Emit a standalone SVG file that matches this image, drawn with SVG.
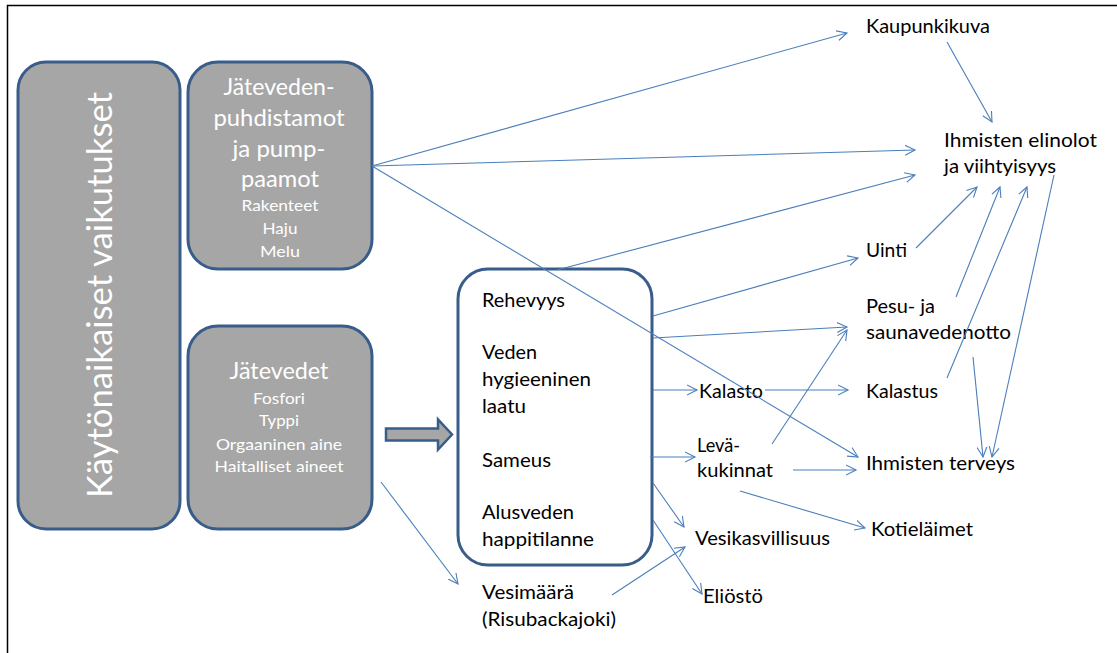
<svg xmlns="http://www.w3.org/2000/svg" width="1117" height="653" viewBox="0 0 1117 653">
<style>
.gbox{fill:#A6A6A6;stroke:#385D8A;stroke-width:3}
.wbox{fill:#FFFFFF;stroke:#385D8A;stroke-width:3}
.wt{font-family:Lato,"Liberation Sans",sans-serif;fill:#FFFFFF;text-anchor:middle}
.big{font-size:24px}
.sm{font-size:16px}
.lb{font-family:Lato,"Liberation Sans",sans-serif;font-size:20px;fill:#000000}
.cn{stroke:#4A7EBB;stroke-width:1.1;fill:none;marker-end:url(#ah)}
</style>
<defs>
<marker id="ah" markerUnits="userSpaceOnUse" markerWidth="12" markerHeight="12" refX="10" refY="5" orient="auto" viewBox="0 0 12 10">
<path d="M0,0 L10,5 L0,10" fill="none" stroke="#4A7EBB" stroke-width="1.1"/>
</marker>
</defs>
<rect x="0" y="0" width="1117" height="653" fill="#FFFFFF"/>
<rect x="7.5" y="5.5" width="1200" height="700" fill="none" stroke="#000000" stroke-width="1.5"/>

<g id="kaytonaikaiset">
<rect class="gbox" x="18" y="62" width="162" height="467" rx="28" ry="28"/>
<text class="wt" font-size="34" transform="translate(112,295) rotate(-90)" x="0" y="0" textLength="406" lengthAdjust="spacingAndGlyphs">Käytönaikaiset vaikutukset</text>
</g>

<g id="puhdistamot">
<rect class="gbox" x="188" y="62" width="184" height="207" rx="30" ry="30"/>
<text class="wt big" x="279" y="95" textLength="111" lengthAdjust="spacingAndGlyphs">Jäteveden-</text>
<text class="wt big" x="279" y="126" textLength="131" lengthAdjust="spacingAndGlyphs">puhdistamot</text>
<text class="wt big" x="279" y="157" textLength="93" lengthAdjust="spacingAndGlyphs">ja pump-</text>
<text class="wt big" x="280" y="187" textLength="78" lengthAdjust="spacingAndGlyphs">paamot</text>
<text class="wt sm" x="280" y="211" textLength="77" lengthAdjust="spacingAndGlyphs">Rakenteet</text>
<text class="wt sm" x="280" y="234" textLength="35" lengthAdjust="spacingAndGlyphs">Haju</text>
<text class="wt sm" x="280" y="257" textLength="40" lengthAdjust="spacingAndGlyphs">Melu</text>
</g>

<g id="jatevedet">
<rect class="gbox" x="188" y="326" width="184" height="203" rx="30" ry="30"/>
<text class="wt big" x="279" y="379" textLength="99" lengthAdjust="spacingAndGlyphs">Jätevedet</text>
<text class="wt sm" x="279" y="404" textLength="52" lengthAdjust="spacingAndGlyphs">Fosfori</text>
<text class="wt sm" x="279" y="426" textLength="40" lengthAdjust="spacingAndGlyphs">Typpi</text>
<text class="wt sm" x="279" y="450" textLength="126" lengthAdjust="spacingAndGlyphs">Orgaaninen aine</text>
<text class="wt sm" x="279" y="472" textLength="129" lengthAdjust="spacingAndGlyphs">Haitalliset aineet</text>
</g>

<g id="blockarrow">
<path d="M386,428.5 L438,428.5 L438,419.5 L452,434.5 L438,449.5 L438,440.5 L386,440.5 Z" fill="#A6A6A6" stroke="#385D8A" stroke-width="2.5" stroke-linejoin="miter"/>
</g>

<g id="vedenlaatu">
<rect class="wbox" x="458" y="269" width="194" height="296" rx="30" ry="30"/>
<text class="lb" x="482" y="307" textLength="83" lengthAdjust="spacingAndGlyphs">Rehevyys</text>
<text class="lb" x="482" y="359" textLength="55" lengthAdjust="spacingAndGlyphs">Veden</text>
<text class="lb" x="482" y="386" textLength="109" lengthAdjust="spacingAndGlyphs">hygieeninen</text>
<text class="lb" x="482" y="413" textLength="44" lengthAdjust="spacingAndGlyphs">laatu</text>
<text class="lb" x="482" y="467" textLength="69" lengthAdjust="spacingAndGlyphs">Sameus</text>
<text class="lb" x="482" y="519" textLength="92" lengthAdjust="spacingAndGlyphs">Alusveden</text>
<text class="lb" x="482" y="546" textLength="112" lengthAdjust="spacingAndGlyphs">happitilanne</text>
</g>

<g id="vesimaara">
<text class="lb" x="482" y="599" textLength="92" lengthAdjust="spacingAndGlyphs">Vesimäärä</text>
<text class="lb" x="482" y="626" textLength="134" lengthAdjust="spacingAndGlyphs">(Risubackajoki)</text>
</g>

<g id="kalasto"><text class="lb" x="699" y="398" textLength="64" lengthAdjust="spacingAndGlyphs">Kalasto</text></g>
<g id="levakukinnat">
<text class="lb" x="697" y="452" textLength="43" lengthAdjust="spacingAndGlyphs">Levä-</text>
<text class="lb" x="697" y="477" textLength="76" lengthAdjust="spacingAndGlyphs">kukinnat</text>
</g>
<g id="vesikasvillisuus"><text class="lb" x="695" y="545" textLength="135" lengthAdjust="spacingAndGlyphs">Vesikasvillisuus</text></g>
<g id="eliosto"><text class="lb" x="703" y="603" textLength="60" lengthAdjust="spacingAndGlyphs">Eliöstö</text></g>

<g id="kaupunkikuva"><text class="lb" x="866" y="33" textLength="124" lengthAdjust="spacingAndGlyphs">Kaupunkikuva</text></g>
<g id="elinolot">
<text class="lb" x="944" y="147" textLength="153" lengthAdjust="spacingAndGlyphs">Ihmisten elinolot</text>
<text class="lb" x="944" y="173" textLength="112" lengthAdjust="spacingAndGlyphs">ja viihtyisyys</text>
</g>
<g id="uinti"><text class="lb" x="866" y="257" textLength="41" lengthAdjust="spacingAndGlyphs">Uinti</text></g>
<g id="pesu">
<text class="lb" x="866" y="313" textLength="69" lengthAdjust="spacingAndGlyphs">Pesu- ja</text>
<text class="lb" x="866" y="339" textLength="145" lengthAdjust="spacingAndGlyphs">saunavedenotto</text>
</g>
<g id="kalastus"><text class="lb" x="866" y="398" textLength="72" lengthAdjust="spacingAndGlyphs">Kalastus</text></g>
<g id="terveys"><text class="lb" x="866" y="470" textLength="149" lengthAdjust="spacingAndGlyphs">Ihmisten terveys</text></g>
<g id="kotielaimet"><text class="lb" x="871" y="536" textLength="102" lengthAdjust="spacingAndGlyphs">Kotieläimet</text></g>

<g id="connectors">
<line class="cn" x1="372" y1="166" x2="847" y2="33"/>
<line class="cn" x1="372" y1="166" x2="915" y2="150"/>
<line class="cn" x1="372" y1="166" x2="858" y2="457"/>
<line class="cn" x1="557" y1="270" x2="915" y2="175"/>
<line class="cn" x1="653" y1="316" x2="858" y2="258"/>
<line class="cn" x1="653" y1="338" x2="847" y2="327"/>
<line class="cn" x1="653" y1="390" x2="697" y2="390"/>
<line class="cn" x1="765" y1="390" x2="848" y2="390"/>
<line class="cn" x1="650" y1="457" x2="695" y2="457"/>
<line class="cn" x1="772" y1="444" x2="847" y2="330"/>
<line class="cn" x1="793" y1="470" x2="856" y2="470"/>
<line class="cn" x1="740" y1="491" x2="865" y2="528"/>
<line class="cn" x1="653" y1="483" x2="684" y2="527"/>
<line class="cn" x1="653" y1="520" x2="702" y2="594"/>
<line class="cn" x1="612" y1="595" x2="685" y2="547"/>
<line class="cn" x1="381" y1="482" x2="458" y2="584"/>
<line class="cn" x1="947" y1="42" x2="992" y2="122"/>
<line class="cn" x1="916" y1="248" x2="977" y2="187"/>
<line class="cn" x1="956" y1="297" x2="1000" y2="187"/>
<line class="cn" x1="947" y1="378" x2="1027" y2="187"/>
<line class="cn" x1="1054" y1="175" x2="992" y2="457"/>
<line class="cn" x1="973" y1="357" x2="983" y2="457"/>
</g>
</svg>
